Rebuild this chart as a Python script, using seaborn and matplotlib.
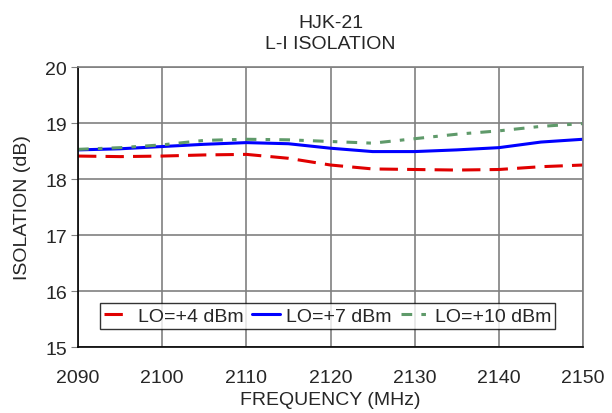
import matplotlib
matplotlib.use("Agg")
import matplotlib.pyplot as plt
import pandas as pd
import seaborn as sns

freq = [2090, 2095, 2100, 2105, 2110, 2115, 2120, 2125, 2130, 2135, 2140, 2145, 2150]
lo4 = [18.41, 18.40, 18.41, 18.43, 18.44, 18.37, 18.25, 18.18, 18.17, 18.16, 18.17, 18.22, 18.25]
lo7 = [18.52, 18.54, 18.58, 18.62, 18.65, 18.63, 18.55, 18.49, 18.49, 18.52, 18.56, 18.66, 18.71]
lo10 = [18.53, 18.56, 18.61, 18.69, 18.71, 18.70, 18.67, 18.64, 18.72, 18.80, 18.86, 18.94, 18.99]
series_names = ["LO=+4 dBm", "LO=+7 dBm", "LO=+10 dBm"]

df = pd.DataFrame({"freq": freq, series_names[0]: lo4,
                   series_names[1]: lo7, series_names[2]: lo10})
long = df.melt(id_vars="freq", var_name="series", value_name="iso")

sns.set_style("white")
plt.rcParams["font.family"] = ["Liberation Sans", "DejaVu Sans"]

fig = plt.figure(figsize=(6.12, 4.14), dpi=100)
ax = fig.add_axes([0.1275, 0.1594, 0.8251, 0.6763])

palette = {series_names[0]: "#e00000", series_names[1]: "#0000ff", series_names[2]: "#5f9a6a"}
sns.lineplot(data=long, x="freq", y="iso", hue="series", palette=palette,
             linewidth=2.2, ax=ax, legend=False)
lines = ax.get_lines()
lines[0].set_dashes((6, 3))
lines[2].set_dashes((3.5, 3, 1.5, 3))
for ln in lines:
    ln.set_dash_joinstyle("round")
    ln.set_solid_joinstyle("round")

ax.set_xlim(2090, 2150)
ax.set_ylim(15, 20)
ax.set_xticks(range(2090, 2151, 10))
ax.set_yticks(range(15, 21))
ax.grid(True, color="#808080", linewidth=1.2)
for s in ax.spines.values():
    s.set_color("#808080")
    s.set_linewidth(1.2)
ax.spines["left"].set_color("black")
ax.spines["bottom"].set_color("black")
ax.tick_params(axis="y", labelsize=14, length=5, color="#808080", direction="out",
               left=True, pad=3)
ax.tick_params(axis="x", labelsize=14, bottom=False, pad=12)
ax.set_xlabel("FREQUENCY (MHz)", fontsize=14, labelpad=4)
ax.set_ylabel("ISOLATION (dB)", fontsize=14, labelpad=10)
ax.set_title("HJK-21\nL-I ISOLATION", fontsize=14, pad=14, linespacing=1.3)

leg = ax.legend(lines, series_names, loc="lower center", ncol=3, fontsize=14,
                bbox_to_anchor=(0.494, 0.065), frameon=True, fancybox=False,
                edgecolor="black", handlelength=1.4, columnspacing=0.45,
                handletextpad=0.35, borderpad=0.22, borderaxespad=0)
leg.get_frame().set_linewidth(1.0)

fig.savefig("out.png", dpi=100)
